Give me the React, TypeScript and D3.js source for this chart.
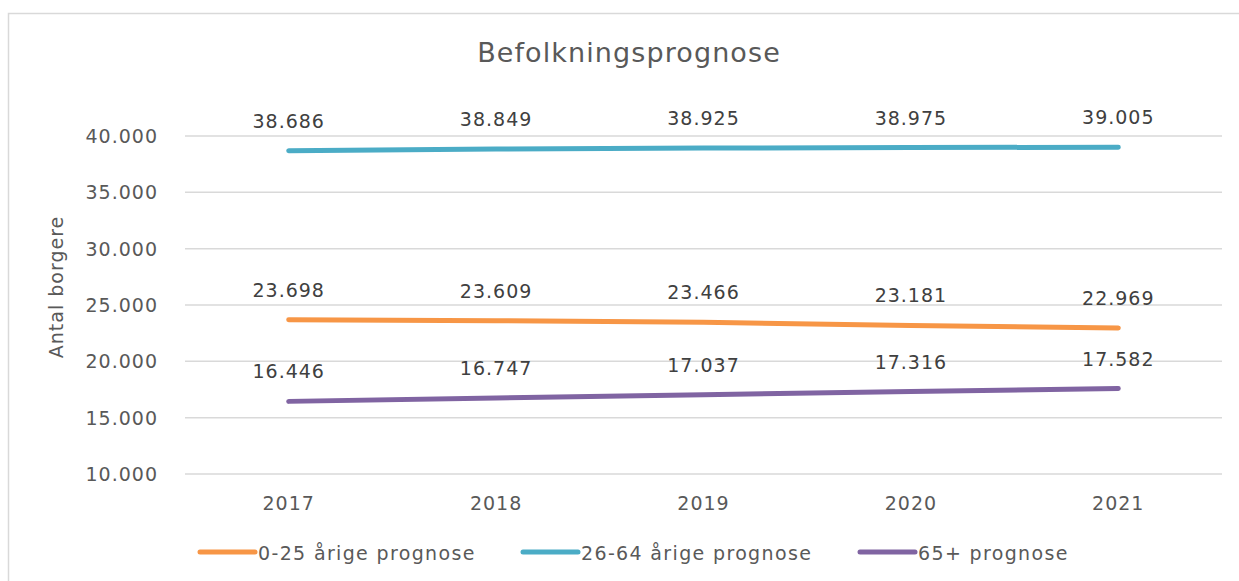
import React from "react";
import * as d3 from "d3";

const years = ["2017", "2018", "2019", "2020", "2021"];
const young = [23698, 23609, 23466, 23181, 22969];
const adults = [38686, 38849, 38925, 38975, 39005];
const seniors = [16446, 16747, 17037, 17316, 17582];
const yTicks = [10000, 15000, 20000, 25000, 30000, 35000, 40000];

const seriesList = [
  { name: "0-25 årige prognose", values: young, color: "#F79646" },
  { name: "26-64 årige prognose", values: adults, color: "#4BACC6" },
  { name: "65+ prognose", values: seniors, color: "#8064A2" },
];

const W = 1239;
const H = 581;
const FONT = "'DejaVu Sans', Verdana, sans-serif";
const fmt = (v: number) => d3.format(",")(v).replace(/,/g, ".");

export default function App() {
  const x = d3.scaleBand<string>().domain(years).range([185, 1222]);
  const y = d3.scaleLinear().domain([10000, 40000]).range([474, 136]);
  const cx = (d: string) => (x(d) as number) + x.bandwidth() / 2;
  const line = d3
    .line<number>()
    .x((_, i) => cx(years[i]))
    .y((v) => y(v));

  const legendX = [200, 523, 860];

  return (
    <svg
      width={W}
      height={H}
      style={{ position: "absolute", left: 0, top: 0, background: "#fff" }}
      fontFamily={FONT}
    >
      <rect x={8.5} y={13.5} width={1300} height={700} fill="#fff" stroke="#d9d9d9" strokeWidth={1.5} />
      <text x={629} y={62} textAnchor="middle" fontSize={27} fill="#595959" letterSpacing={1.1}>
        Befolkningsprognose
      </text>
      {yTicks.map((t) => (
        <g key={t}>
          <line x1={185} x2={1222} y1={y(t)} y2={y(t)} stroke="#d9d9d9" strokeWidth={1.5} />
          <text x={158} y={y(t)} dy="0.36em" textAnchor="end" fontSize={19} fill="#595959" letterSpacing={1}>
            {fmt(t)}
          </text>
        </g>
      ))}
      <text
        transform={`translate(63,287) rotate(-90)`}
        textAnchor="middle"
        fontSize={19}
        fill="#595959"
        letterSpacing={1}
      >
        Antal borgere
      </text>
      {years.map((yr) => (
        <text key={yr} x={cx(yr)} y={510} textAnchor="middle" fontSize={19} fill="#595959" letterSpacing={1}>
          {yr}
        </text>
      ))}
      {seriesList.map((s) => (
        <g key={s.name}>
          <path d={line(s.values) || ""} fill="none" stroke={s.color} strokeWidth={5} strokeLinecap="round" />
          {s.values.map((v, i) => (
            <text
              key={i}
              x={cx(years[i])}
              y={y(v) - 23}
              textAnchor="middle"
              fontSize={19}
              fill="#404040"
              letterSpacing={1}
            >
              {fmt(v)}
            </text>
          ))}
        </g>
      ))}
      {seriesList.map((s, i) => (
        <g key={s.name}>
          <line
            x1={legendX[i]}
            x2={legendX[i] + 55}
            y1={552}
            y2={552}
            stroke={s.color}
            strokeWidth={5}
            strokeLinecap="round"
          />
          <text x={legendX[i] + 58} y={560} fontSize={19} fill="#595959" letterSpacing={1.35}>
            {s.name}
          </text>
        </g>
      ))}
    </svg>
  );
}
